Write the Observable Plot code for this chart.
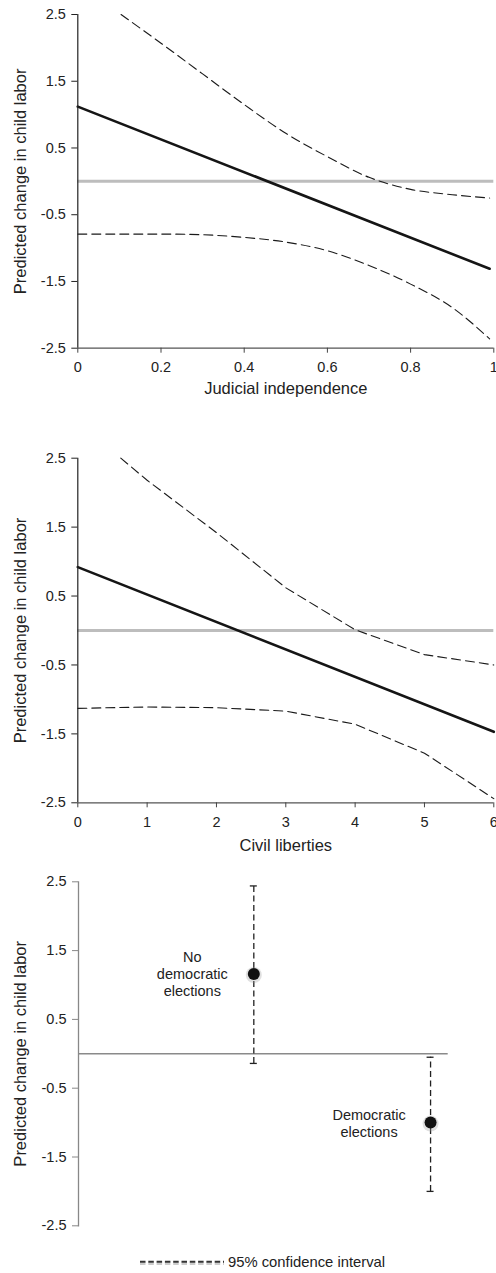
<!DOCTYPE html>
<html><head><meta charset="utf-8">
<script src="https://cdn.jsdelivr.net/npm/d3@7"></script>
<script src="https://cdn.jsdelivr.net/npm/@observablehq/plot@0.6"></script>
<style>
body{margin:0;background:#fff;font-family:"Liberation Sans",Arial,sans-serif;}
#root{width:496px;}
#root svg{display:block;}
</style></head><body><div id="root"></div>
<script>
// ---------- shared ----------
const yTicks = [-2.5, -1.5, -0.5, 0.5, 1.5, 2.5];
const yTitle = "Predicted change in child labor";

// ---------- panel 1: judicial independence ----------
const judTicks = [0, 0.2, 0.4, 0.6, 0.8, 1];
const judTitle = "Judicial independence";
const judPredX = [0, 0.99];
const judPred = [1.12, -1.31];
const judUpperX = [0.104, 0.2, 0.3, 0.4, 0.5, 0.6, 0.7, 0.8, 0.9, 0.99];
const judUpper = [2.5, 2.07, 1.61, 1.15, 0.72, 0.37, 0.06, -0.12, -0.2, -0.25];
const judLowerX = [0, 0.1, 0.2, 0.3, 0.4, 0.5, 0.6, 0.7, 0.8, 0.9, 0.99];
const judLower = [-0.79, -0.79, -0.79, -0.8, -0.84, -0.91, -1.04, -1.26, -1.54, -1.89, -2.36];

// ---------- panel 2: civil liberties ----------
const civTicks = [0, 1, 2, 3, 4, 5, 6];
const civTitle = "Civil liberties";
const civPredX = [0, 6];
const civPred = [0.92, -1.47];
const civUpperX = [0.62, 1, 2, 3, 4, 5, 6];
const civUpper = [2.5, 2.18, 1.42, 0.62, 0.01, -0.35, -0.5];
const civLowerX = [0, 1, 2, 3, 4, 5, 6];
const civLower = [-1.13, -1.11, -1.12, -1.17, -1.36, -1.78, -2.44];

// ---------- panel 3: democratic elections ----------
const groups = ["No democratic elections", "Democratic elections"];
const groupLabels = ["No\ndemocratic\nelections", "Democratic\nelections"];
const estimates = [1.16, -1.0];
const ciLow = [-0.14, -2.0];
const ciHigh = [2.44, -0.05];
const legendText = "95% confidence interval";

const zip = (xs, ys) => xs.map((x, i) => ({x, y: ys[i]}));
const FONT = '"Liberation Sans", Arial, sans-serif';

function linePanel(o) {
  return Plot.plot({
    width: 496, height: o.height,
    marginTop: o.mt, marginBottom: o.mb, marginLeft: 77.3, marginRight: 2.7,
    style: {fontFamily: FONT, fontSize: "14.5px", color: "#222", background: "#fff", overflow: "visible"},
    x: {domain: o.domain},
    y: {domain: [-2.5, 2.5]},
    marks: [
      Plot.ruleY([0], {stroke: "#bdbdbd", strokeWidth: 3}),
      Plot.line(zip(o.upX, o.up), {x: "x", y: "y", curve: o.curve, stroke: "#1a1a1a", strokeWidth: 1.1, strokeDasharray: "9,5"}),
      Plot.line(zip(o.loX, o.lo), {x: "x", y: "y", curve: o.curve, stroke: "#1a1a1a", strokeWidth: 1.1, strokeDasharray: "9,5"}),
      Plot.line(zip(o.predX, o.pred), {x: "x", y: "y", stroke: "#151515", strokeWidth: 2.6}),
      Plot.ruleX([o.domain[0]], {stroke: "#222", strokeWidth: 1.2}),
      Plot.ruleY([-2.5], {stroke: "#555", strokeWidth: 1.2}),
      Plot.axisY({ticks: yTicks, tickSize: 6, tickPadding: 6, tickFormat: d => d.toFixed(1), label: null, stroke: "#222", fill: "#222", fontSize: 14.5}),
      Plot.axisX({ticks: o.xTicks, tickSize: 5, tickPadding: 9, tickFormat: d => String(d), label: null, stroke: "#444", fill: "#222", fontSize: 14.5}),
      Plot.text([o.xTitle], {frameAnchor: "bottom", dy: o.titleDy, text: d => d, fontSize: 16.5, lineAnchor: "middle", textAnchor: "middle", fill: "#222"}),
      Plot.text([yTitle], {frameAnchor: "left", dx: -57.3, rotate: -90, text: d => d, fontSize: 16.5, lineAnchor: "middle", textAnchor: "middle", fill: "#222"})
    ]
  });
}

const root = document.getElementById("root");

root.appendChild(linePanel({
  height: 420, mt: 14, mb: 72.3, domain: [0, 1], xTicks: judTicks, xTitle: judTitle, titleDy: 40.6, curve: "monotone-x",
  predX: judPredX, pred: judPred, upX: judUpperX, up: judUpper, loX: judLowerX, lo: judLower
}));

root.appendChild(linePanel({
  height: 440, mt: 37.7, mb: 57.7, domain: [0, 6], xTicks: civTicks, xTitle: civTitle, titleDy: 42.7, curve: "linear",
  predX: civPredX, pred: civPred, upX: civUpperX, up: civUpper, loX: civLowerX, lo: civLower
}));

const elec = groups.map((g, i) => ({group: g, label: groupLabels[i], est: estimates[i], lo: ciLow[i], hi: ciHigh[i]}));

root.appendChild(Plot.plot({
  width: 496, height: 390,
  marginTop: 21.3, marginBottom: 24.7, marginLeft: 78, marginRight: 48.3,
  style: {fontFamily: FONT, fontSize: "14.5px", color: "#222", background: "#fff", overflow: "visible"},
  x: {type: "band", domain: groups, paddingInner: 0.9604, paddingOuter: 0.526, align: 0.924, round: false, axis: null},
  y: {domain: [-2.5, 2.5]},
  marks: [
    Plot.ruleY([0], {stroke: "#8a8a8a", strokeWidth: 1.6}),
    Plot.frame({anchor: "left", stroke: "#888", strokeWidth: 1.3}),
    Plot.axisY({ticks: yTicks, tickSize: 6, tickPadding: 6, tickFormat: d => d.toFixed(1), label: null, stroke: "#888", fill: "#222", fontSize: 14.5}),
    Plot.ruleX(elec, {x: "group", y1: "lo", y2: "hi", stroke: "#222", strokeWidth: 1.3, strokeDasharray: "6,3.5"}),
    Plot.tickY(elec, {x: "group", y: "hi", stroke: "#222", strokeWidth: 1.3}),
    Plot.tickY(elec, {x: "group", y: "lo", stroke: "#222", strokeWidth: 1.3}),
    Plot.dot(elec, {x: "group", y: "est", r: 8, fill: "#999", fillOpacity: 0.3, dy: 1}),
    Plot.dot(elec, {x: "group", y: "est", r: 6, fill: "#111"}),
    Plot.text(elec, {x: "group", y: "est", text: "label", dx: -61.5, fontSize: 14.5, lineHeight: 1.17, lineAnchor: "middle", textAnchor: "middle", fill: "#222"}),
    Plot.text([yTitle], {frameAnchor: "left", dx: -58, rotate: -90, text: d => d, fontSize: 16.5, lineAnchor: "middle", textAnchor: "middle", fill: "#222"})
  ]
}));

// legend below the third chart
const leg = document.createElement("div");
leg.style.cssText = "position:relative;height:23px;width:496px;";
leg.innerHTML =
  '<svg width="90" height="23" style="position:absolute;left:140px;top:0;">' +
  '<line x1="0" x2="84" y1="13.7" y2="13.7" stroke="#ccc" stroke-width="2.5" stroke-dasharray="5.5,2.8"/>' +
  '<line x1="0" x2="84" y1="11.7" y2="11.7" stroke="#333" stroke-width="2" stroke-dasharray="5.5,2.8"/></svg>' +
  '<span style="position:absolute;left:228px;top:11.7px;transform:translateY(-50%);font-size:14.8px;color:#222;white-space:nowrap;line-height:1;">' + legendText + '</span>';
root.appendChild(leg);
</script>
</body></html>
